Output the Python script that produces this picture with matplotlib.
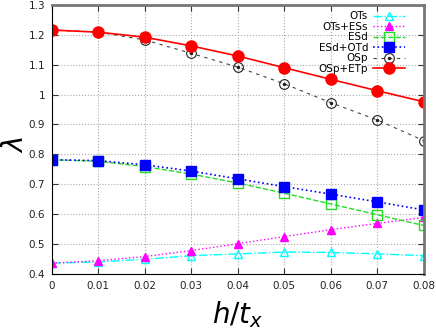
import numpy as np
import matplotlib
matplotlib.use("Agg")
import matplotlib.pyplot as plt
from matplotlib.legend_handler import HandlerTuple

# values
h_tx = [0, 0.01, 0.02, 0.03, 0.04, 0.05, 0.06, 0.07, 0.08]
ots = [0.436, 0.440, 0.449, 0.461, 0.467, 0.473, 0.472, 0.467, 0.461]
ots_ess = [0.436, 0.444, 0.458, 0.478, 0.501, 0.525, 0.548, 0.569, 0.589]
esd = [0.782, 0.777, 0.759, 0.734, 0.704, 0.670, 0.634, 0.598, 0.562]
esd_otd = [0.782, 0.779, 0.765, 0.744, 0.718, 0.692, 0.667, 0.641, 0.614]
osp = [1.216, 1.209, 1.183, 1.138, 1.092, 1.036, 0.973, 0.915, 0.846]
osp_etp = [1.216, 1.209, 1.192, 1.163, 1.129, 1.090, 1.051, 1.013, 0.976]

xticks = [0, 0.01, 0.02, 0.03, 0.04, 0.05, 0.06, 0.07, 0.08]
xticklabels = ['0', '0.01', '0.02', '0.03', '0.04', '0.05', '0.06', '0.07', '0.08']
yticks = [0.4, 0.5, 0.6, 0.7, 0.8, 0.9, 1, 1.1, 1.2, 1.3]
yticklabels = ['0.4', '0.5', '0.6', '0.7', '0.8', '0.9', '1', '1.1', '1.2', '1.3']

fig = plt.figure(figsize=(4.36, 3.3), dpi=100)
ax = fig.add_axes([0.119, 0.170, 0.853, 0.815])

l1, = ax.plot(h_tx, ots, color='cyan', ls='-.', lw=1, marker='^', ms=6,
              mfc='none', mec='cyan', mew=1, label='OTs')
l2, = ax.plot(h_tx, ots_ess, color='magenta', ls=':', lw=1, marker='^', ms=6,
              mfc='magenta', mec='magenta', label='OTs+ESs')
l3, = ax.plot(h_tx, esd, color='#22dd22', ls='--', lw=1, marker='s', ms=7,
              mfc='none', mec='#22dd22', mew=1, label='ESd')
l4, = ax.plot(h_tx, esd_otd, color='blue', ls=':', lw=1.2, marker='s', ms=7,
              mfc='blue', mec='blue', label='ESd+OTd')
l5, = ax.plot(h_tx, osp, color='#444444', ls=(0, (3, 4)), lw=0.8, marker='o', ms=7,
              mfc='none', mec='#222222', mew=0.8, label='OSp')
l5b, = ax.plot(h_tx, osp, ls='none', marker='o', ms=1.5, color='#222222')
l6, = ax.plot(h_tx, osp_etp, color='red', ls='-', lw=1.2, marker='o', ms=8,
              mfc='red', mec='red', label='OSp+ETp')

ax.set_xlim(0, 0.08)
ax.set_ylim(0.4, 1.3)
ax.set_xticks(xticks)
ax.set_xticklabels(xticklabels)
ax.set_yticks(yticks)
ax.set_yticklabels(yticklabels)
ax.tick_params(direction='in', top=True, right=True, labelsize=7.5, length=4,
               colors='#333333', labelcolor='#222222', pad=5)
ax.grid(True, color='#aaaaaa', ls=':', lw=0.8)

ax.spines['left'].set_color('black')
ax.spines['bottom'].set_color('black')
ax.spines['top'].set_color('#777777')
ax.spines['right'].set_color('#777777')
ax.spines['top'].set_linewidth(2)
ax.spines['right'].set_linewidth(2)

ax.set_xlabel(r'$h/t_x$', fontsize=20, labelpad=6)
ax.set_ylabel(r'$\lambda$', fontsize=20)
ax.yaxis.set_label_coords(-0.062, 0.48)

handles = [l1, l2, l3, l4, (l5, l5b), l6]
labels = ['OTs', 'OTs+ESs', 'ESd', 'ESd+OTd', 'OSp', 'OSp+ETp']
ax.legend(handles, labels, loc='upper right', frameon=False, markerfirst=False,
          fontsize=7.5, handlelength=3, labelspacing=0.05, borderaxespad=0.2,
          handletextpad=0.5, bbox_to_anchor=(0.965, 1.0),
          handler_map={tuple: HandlerTuple(ndivide=1)})

fig.savefig('out.png', dpi=100)
